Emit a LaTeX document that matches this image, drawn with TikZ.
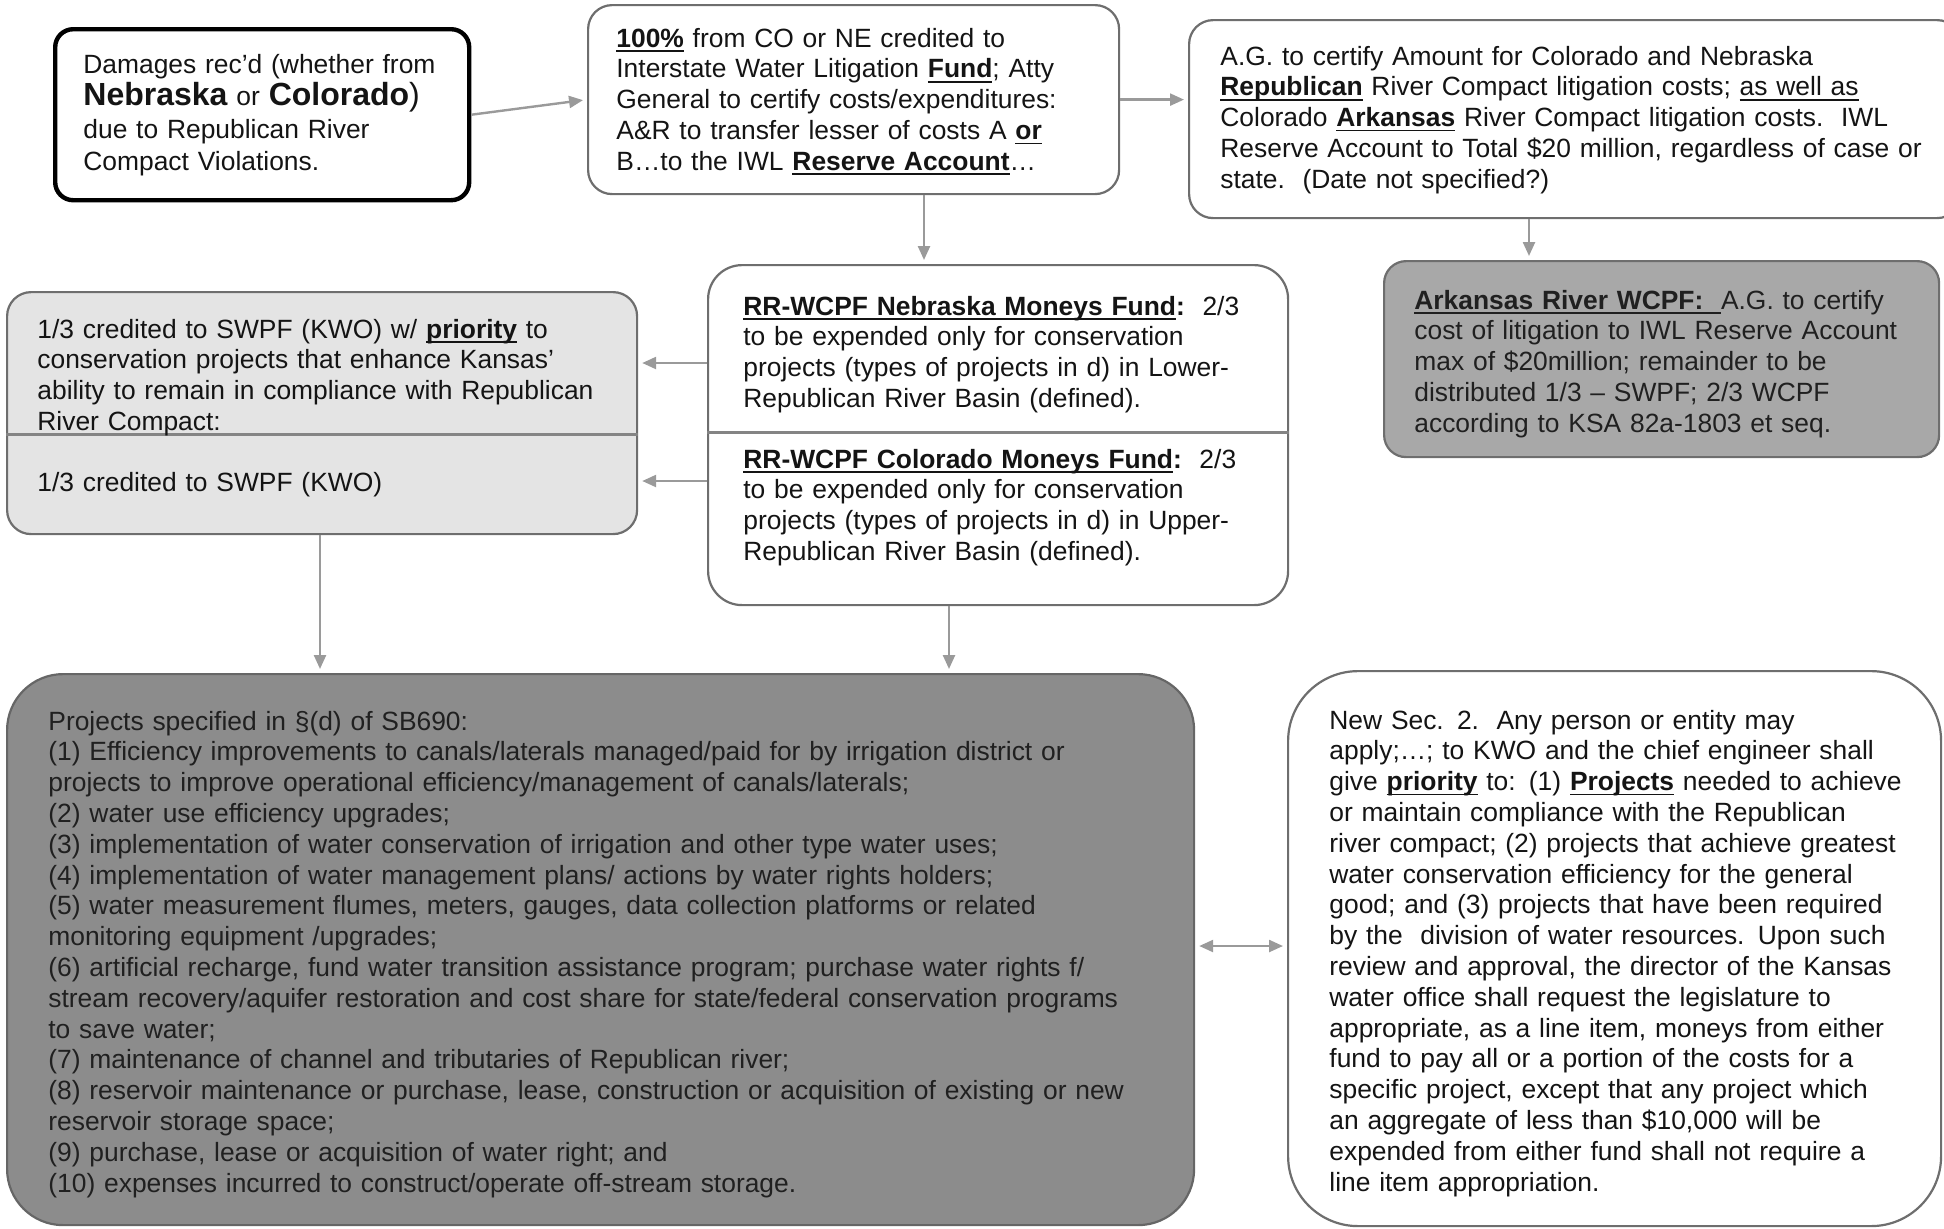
\documentclass[tikz,border=0pt]{standalone}
\usepackage{fontspec}
\setmainfont{Liberation Sans}
\usetikzlibrary{arrows.meta}
\definecolor{edgegray}{HTML}{6E6E6E}
\definecolor{arrowgray}{HTML}{9A9A9A}
\definecolor{lightfill}{HTML}{E4E4E4}
\definecolor{midfill}{HTML}{A8A8A8}
\definecolor{darkfill}{HTML}{8C8C8C}
\definecolor{inkdark}{HTML}{202020}
\newcommand{\myul}[1]{\leavevmode\setbox0\hbox{#1}\rlap{\rule[-2.4pt]{\wd0}{0.8pt}}\box0\relax}
\newcommand{\ubf}[1]{\myul{\textbf{#1}}}
\newcommand{\bigbf}[1]{{\fontsize{16}{16}\selectfont\textbf{#1}}}
\begin{document}
\begin{tikzpicture}[x=0.5pt,y=-0.5pt,
  frame/.style={draw=edgegray, line width=1.1pt, inner sep=0pt, anchor=north west, fill=white},
  txt/.style={anchor=base west, align=left, inner sep=0pt, text width=#1,
    font=\fontsize{13.2}{15.4}\selectfont, text=black!92},
  arr/.style={draw=arrowgray, line width=1.2pt, shorten >=2pt, -{Triangle[length=7pt,width=6pt]}},
  darr/.style={draw=arrowgray, line width=1.2pt, shorten >=2pt, shorten <=2pt,
    {Triangle[length=7pt,width=6pt]}-{Triangle[length=7pt,width=6pt]}},
  divider/.style={draw=edgegray!85, line width=1.5pt}]
\path[use as bounding box] (0,0) rectangle (1944,1228);
\clip (0,0) rectangle (1944,1228);

% ---------- boxes ----------
\node[frame, draw=black, line width=2.2pt, rounded corners=9pt,
  minimum width=207pt, minimum height=85.5pt] (A) at (53,27) {};
\node[frame, rounded corners=12pt, minimum width=265.5pt, minimum height=94.5pt] (B) at (587,4) {};
\node[frame, rounded corners=12pt, minimum width=386pt, minimum height=99pt] (C) at (1188,19) {};
\node[frame, fill=lightfill, rounded corners=12pt, minimum width=315pt, minimum height=121pt] (D) at (6,291) {};
\node[frame, rounded corners=17pt, minimum width=290pt, minimum height=170pt] (E) at (707,264) {};
\node[frame, fill=midfill, rounded corners=11pt, minimum width=277.5pt, minimum height=98pt] (F) at (1383,260) {};
\node[frame, fill=darkfill, draw=black!60, rounded corners=28pt, minimum width=593.5pt, minimum height=275.5pt] (G) at (6,673) {};
\node[frame, rounded corners=35pt, minimum width=326.5pt, minimum height=277.5pt] (H) at (1287,670) {};

\coordinate (dy) at (0,434);
\draw[divider] (D.west |- dy) -- (D.east |- dy);
\coordinate (ey) at (0,432);
\draw[divider] (E.west |- ey) -- (E.east |- ey);

% ---------- texts ----------
\node[txt=200pt, font=\fontsize{13.2}{16.3}\selectfont] (tA) at (83,73) {Damages rec'd (whether from\\
\bigbf{Nebraska} or \bigbf{Colorado}{\fontsize{16}{16}\selectfont)}\\
due to Republican River\\
Compact Violations.};

\node[txt=255pt] (tB) at (616,47) {\ubf{100\%} from CO or NE credited to\\
Interstate Water Litigation \ubf{Fund}; Atty\\
General to certify costs/expenditures:\\
A\&R to transfer lesser of costs A \ubf{or}\\
B…to the IWL \ubf{Reserve Account}…};

\node[txt=370pt] (tC) at (1220,65) {A.G. to certify Amount for Colorado and Nebraska\\
\ubf{Republican} River Compact litigation costs; \myul{as well as}\\
Colorado \ubf{Arkansas} River Compact litigation costs.\ \ IWL\\
Reserve Account to Total \$20 million, regardless of case or\\
state.\ \ (Date not specified?)};

\node[txt=300pt] (tD1) at (37,338) {1/3 credited to SWPF (KWO) w/ \ubf{priority} to\\
conservation projects that enhance Kansas'\\
ability to remain in compliance with Republican\\
River Compact:};
\node[txt=300pt] (tD2) at (37,491) {1/3 credited to SWPF (KWO)};

\node[txt=272pt] (tE1) at (743,315) {\ubf{RR-WCPF Nebraska Moneys Fund}\textbf{:}\ \ 2/3\\
to be expended only for conservation\\
projects (types of projects in d) in Lower-\\
Republican River Basin (defined).};
\node[txt=272pt] (tE2) at (743,468) {\ubf{RR-WCPF Colorado Moneys Fund}\textbf{:}\ \ 2/3\\
to be expended only for conservation\\
projects (types of projects in d) in Upper-\\
Republican River Basin (defined).};

\node[txt=262pt, text=inkdark] (tF) at (1414,309) {\myul{\textbf{Arkansas River WCPF:}\ \ }A.G. to certify\\
cost of litigation to IWL Reserve Account\\
max of \$20million; remainder to be\\
distributed 1/3 – SWPF; 2/3 WCPF\\
according to KSA 82a-1803 et seq.};

\node[txt=575pt, text=inkdark] (tG) at (48,730) {Projects specified in §(d) of SB690:\\
(1) Efficiency improvements to canals/laterals managed/paid for by irrigation district or\\
projects to improve operational efficiency/management of canals/laterals;\\
(2) water use efficiency upgrades;\\
(3) implementation of water conservation of irrigation and other type water uses;\\
(4) implementation of water management plans/ actions by water rights holders;\\
(5) water measurement flumes, meters, gauges, data collection platforms or related\\
monitoring equipment /upgrades;\\
(6) artificial recharge, fund water transition assistance program; purchase water rights f/\\
stream recovery/aquifer restoration and cost share for state/federal conservation programs\\
to save water;\\
(7) maintenance of channel and tributaries of Republican river;\\
(8) reservoir maintenance or purchase, lease, construction or acquisition of existing or new\\
reservoir storage space;\\
(9) purchase, lease or acquisition of water right; and\\
(10) expenses incurred to construct/operate off-stream storage.};

\node[txt=305pt] (tH) at (1329,729) {New Sec. 2.\ \ Any person or entity may\\
apply;…; to KWO and the chief engineer shall\\
give \ubf{priority} to: (1) \ubf{Projects} needed to achieve\\
or maintain compliance with the Republican\\
river compact; (2) projects that achieve greatest\\
water conservation efficiency for the general\\
good; and (3) projects that have been required\\
by the\ \ division of water resources. Upon such\\
review and approval, the director of the Kansas\\
water office shall request the legislature to\\
appropriate, as a line item, moneys from either\\
fund to pay all or a portion of the costs for a\\
specific project, except that any project which\\
an aggregate of less than \$10,000 will be\\
expended from either fund shall not require a\\
line item appropriation.};

% ---------- connectors ----------
\draw[arr] (A.east) -- (B.west);
\draw[arr] (B.east) -- (B.east -| C.west);
\coordinate (bx) at (924,0);
\draw[arr] (B.south -| bx) -- (E.north -| bx);
\coordinate (cx) at (1529,0);
\draw[arr] (C.south -| cx) -- (F.north -| cx);
\coordinate (e1) at (0,363);
\draw[arr] (E.west |- e1) -- (D.east |- e1);
\coordinate (e2) at (0,481);
\draw[arr] (E.west |- e2) -- (D.east |- e2);
\coordinate (dx) at (320,0);
\draw[arr] (D.south -| dx) -- (G.north -| dx);
\coordinate (gx) at (949,0);
\draw[arr] (E.south -| gx) -- (G.north -| gx);
\coordinate (gh) at (0,946);
\draw[darr] (G.east |- gh) -- (H.west |- gh);
\end{tikzpicture}
\end{document}
